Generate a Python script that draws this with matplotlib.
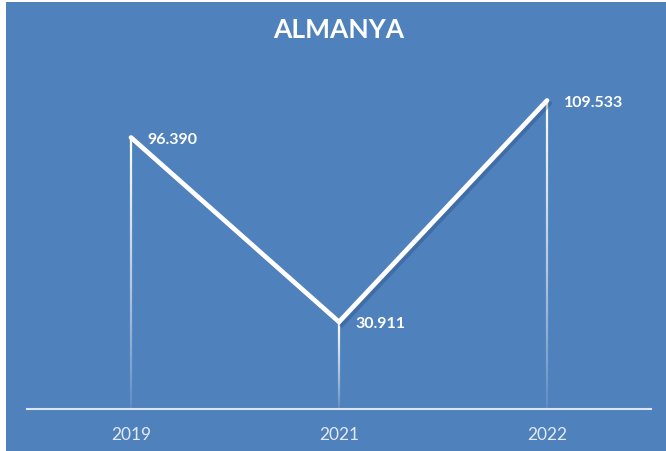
import numpy as np
import matplotlib
matplotlib.use("Agg")
import matplotlib.pyplot as plt
import matplotlib.patheffects as pe
from matplotlib.collections import LineCollection
from matplotlib.patches import Rectangle

yillar = ["2019", "2021", "2022"]
degerler = [96.390, 30.911, 109.533]
etiketler = ["96.390", "30.911", "109.533"]

mavi = "#4F81BD"
plt.rcParams['font.family'] = ['Lato', 'DejaVu Sans']

fig = plt.figure(figsize=(6.66, 4.52), dpi=100)
fig.patch.set_facecolor("white")
fig.patches.append(Rectangle((6 / 666, 0), 1, 1 - 3 / 452, transform=fig.transFigure,
                             facecolor=mavi, edgecolor="none", zorder=-5))

ax = fig.add_axes([27 / 666, 42 / 452, 624 / 666, 338 / 452])
ax.set_facecolor("none")
x = np.arange(len(yillar))
ax.set_xlim(-0.5, len(yillar) - 0.5)
ax.set_ylim(0, 120)

# solan dikey cizgiler
for xi, yi in zip(x, degerler):
    ys = np.linspace(0, yi, 60)
    segs = [[(xi, ys[k]), (xi, ys[k + 1])] for k in range(len(ys) - 1)]
    alfa = np.linspace(0.05, 1, len(segs)) ** 0.8
    renkler = [(1, 1, 1, a) for a in alfa]
    ax.add_collection(LineCollection(segs, colors=renkler, linewidths=1.6, zorder=2))

ax.plot(x, degerler, color="white", linewidth=3.4, solid_capstyle="round",
        solid_joinstyle="miter", zorder=3,
        path_effects=[pe.SimpleLineShadow(offset=(2, -2), shadow_color="#1F3F6F", alpha=0.3),
                      pe.Normal()])

for xi, yi, t in zip(x, degerler, etiketler):
    ax.annotate(t, (xi, yi), xytext=(12, -1), textcoords="offset points",
                ha="left", va="center", color="white", fontsize=11.5, fontweight="bold")

ax.set_xticks(x)
ax.set_xticklabels(yillar, color="#E4EAF2", fontsize=12.5)
ax.tick_params(axis="x", length=0, pad=12)
ax.set_yticks([])
for s in ["top", "left", "right"]:
    ax.spines[s].set_visible(False)
ax.spines["bottom"].set_color("#DDE5F0")
ax.spines["bottom"].set_linewidth(1.5)

fig.text(339 / 666, 1 - 30 / 452, "ALMANYA", ha="center", va="center",
         color="white", fontsize=19, fontweight="bold")

fig.savefig("out.png", dpi=100, facecolor=fig.get_facecolor())
